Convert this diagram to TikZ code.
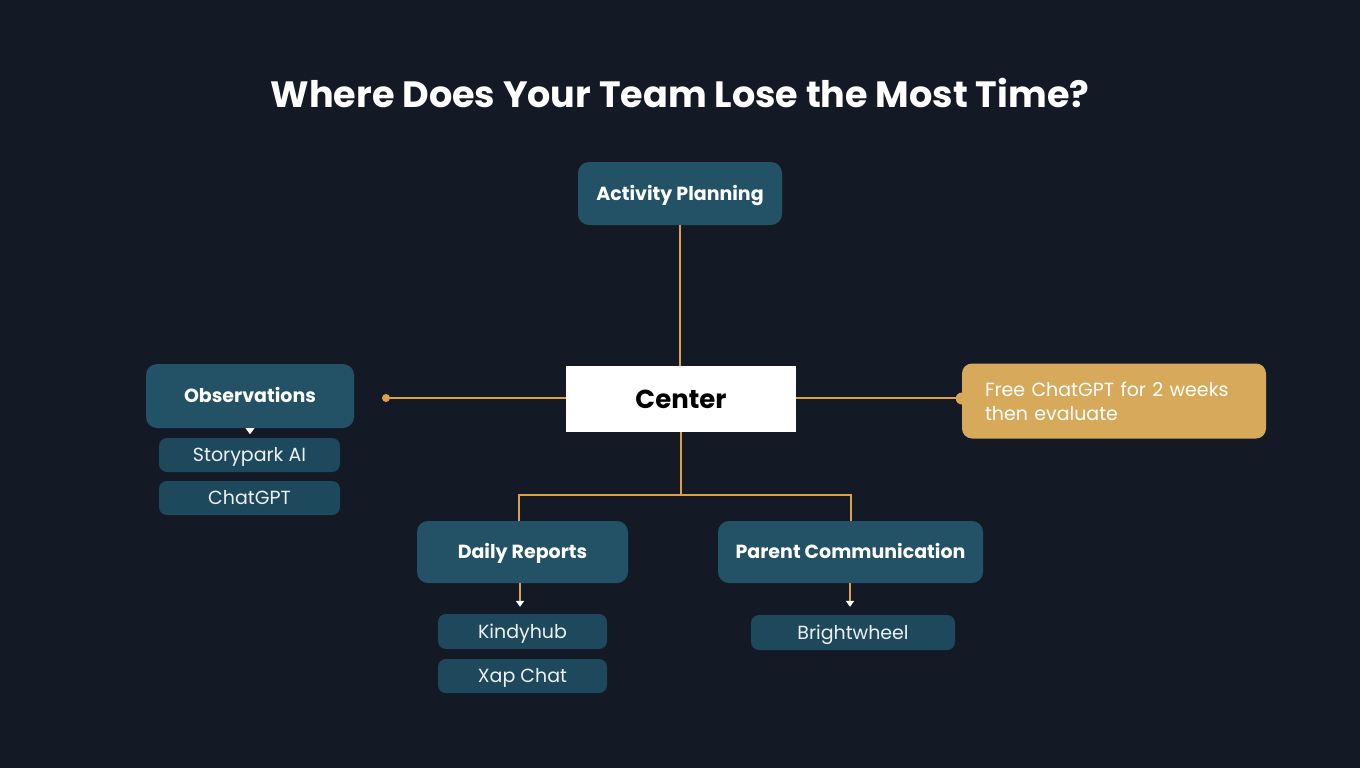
\documentclass[tikz,border=0pt]{standalone}
\usepackage{fontspec}
\setmainfont{Poppins}
\usetikzlibrary{arrows.meta,calc}
\definecolor{bg}{HTML}{131A26}
\definecolor{teal}{HTML}{235266}
\definecolor{subteal}{HTML}{1E485C}
\definecolor{gold}{HTML}{DDA048}
\definecolor{callout}{HTML}{D6AA5A}
\tikzset{
  mainbox/.style={draw=none, fill=teal, rounded corners=11pt, text=white, inner sep=0pt,
    text height=13.3pt, text depth=0pt,
    font=\fontsize{19}{23}\selectfont\bfseries},
  subbox/.style={draw=none, fill=subteal, rounded corners=8pt, text=white!92!teal, inner sep=0pt,
    text height=13.3pt, text depth=0pt,
    font=\fontsize{19}{23}\selectfont},
  link/.style={draw=gold, line width=2pt},
  tip/.style={-{Triangle[width=8pt,length=6pt,color=white]}},
}
\begin{document}
\begin{tikzpicture}[x=1pt,y=-1pt]
\fill[bg] (0,0) rectangle (1360,768);
\useasboundingbox (0,0) rectangle (1360,768);

\node[text=white, font=\fontsize{36.6}{44}\selectfont\bfseries] (title) at (680,93) {Where Does Your Team Lose the Most Time?};

\node[mainbox, minimum width=204pt, minimum height=63pt] (ap) at (680,193.5) {Activity Planning};
\node[fill=white, inner sep=0pt, minimum width=230pt, minimum height=66pt, text height=18.1pt, text depth=0pt,
  font=\fontsize{26}{30}\selectfont\bfseries] (center) at (681,399) {Center};
\node[mainbox, minimum width=208pt, minimum height=64pt] (obs) at (250,396) {Observations};
\node[subbox, minimum width=181pt, minimum height=34pt] (story) at (249.5,455) {Storypark AI};
\node[subbox, minimum width=181pt, minimum height=34pt] (chat) at (249.5,498) {ChatGPT};

\node[fill=callout, rounded corners=10pt, inner xsep=23pt, inner ysep=0pt, text width=258pt, align=left,
  minimum height=75pt, text=white, font=\fontsize{19}{24}\selectfont] (free) at (1114,401)
  {Free ChatGPT for 2 weeks\\then evaluate};
\fill[callout] ($(free.west)+(0,-2.5)$) circle (6pt);

\node[mainbox, minimum width=211pt, minimum height=62pt] (dr) at (522.5,552) {Daily Reports};
\node[mainbox, minimum width=265pt, minimum height=62pt] (pc) at (850.5,552) {Parent Communication};
\node[subbox, minimum width=169pt, minimum height=35pt] (kindy) at (522.5,631.5) {Kindyhub};
\node[subbox, minimum width=169pt, minimum height=34pt] (xap) at (522.5,676) {Xap Chat};
\node[subbox, minimum width=204pt, minimum height=35pt] (bright) at (853,632.5) {Brightwheel};

\coordinate (dot) at (386,398);
\coordinate (split) at (681,495);

% connectors
\draw[link] (center.north -| ap.south) -- (ap.south);
\draw[link] (center.west |- dot) -- (dot);
\fill[gold] (dot) circle (4pt);
\draw[link] (center.east |- dot) -- (free.west |- dot);
\draw[link] (center.south) -- (split);
\draw[link] (dr.north -| 519,0) |- (split) -| (pc.north);
\draw[link, tip, shorten >=7pt] ($(dr.south)+(-2.5,0)$) -- ($(kindy.north)+(-2.5,0)$);
\draw[link, tip, shorten >=8pt] ($(pc.south)+(-0.5,0)$) -- ($(bright.north)+(-3,0)$);
\fill[white] ($(obs.south)+(-4.5,0)$) -- ++(9,0) -- ++(-4.5,6) -- cycle;
\end{tikzpicture}
\end{document}
